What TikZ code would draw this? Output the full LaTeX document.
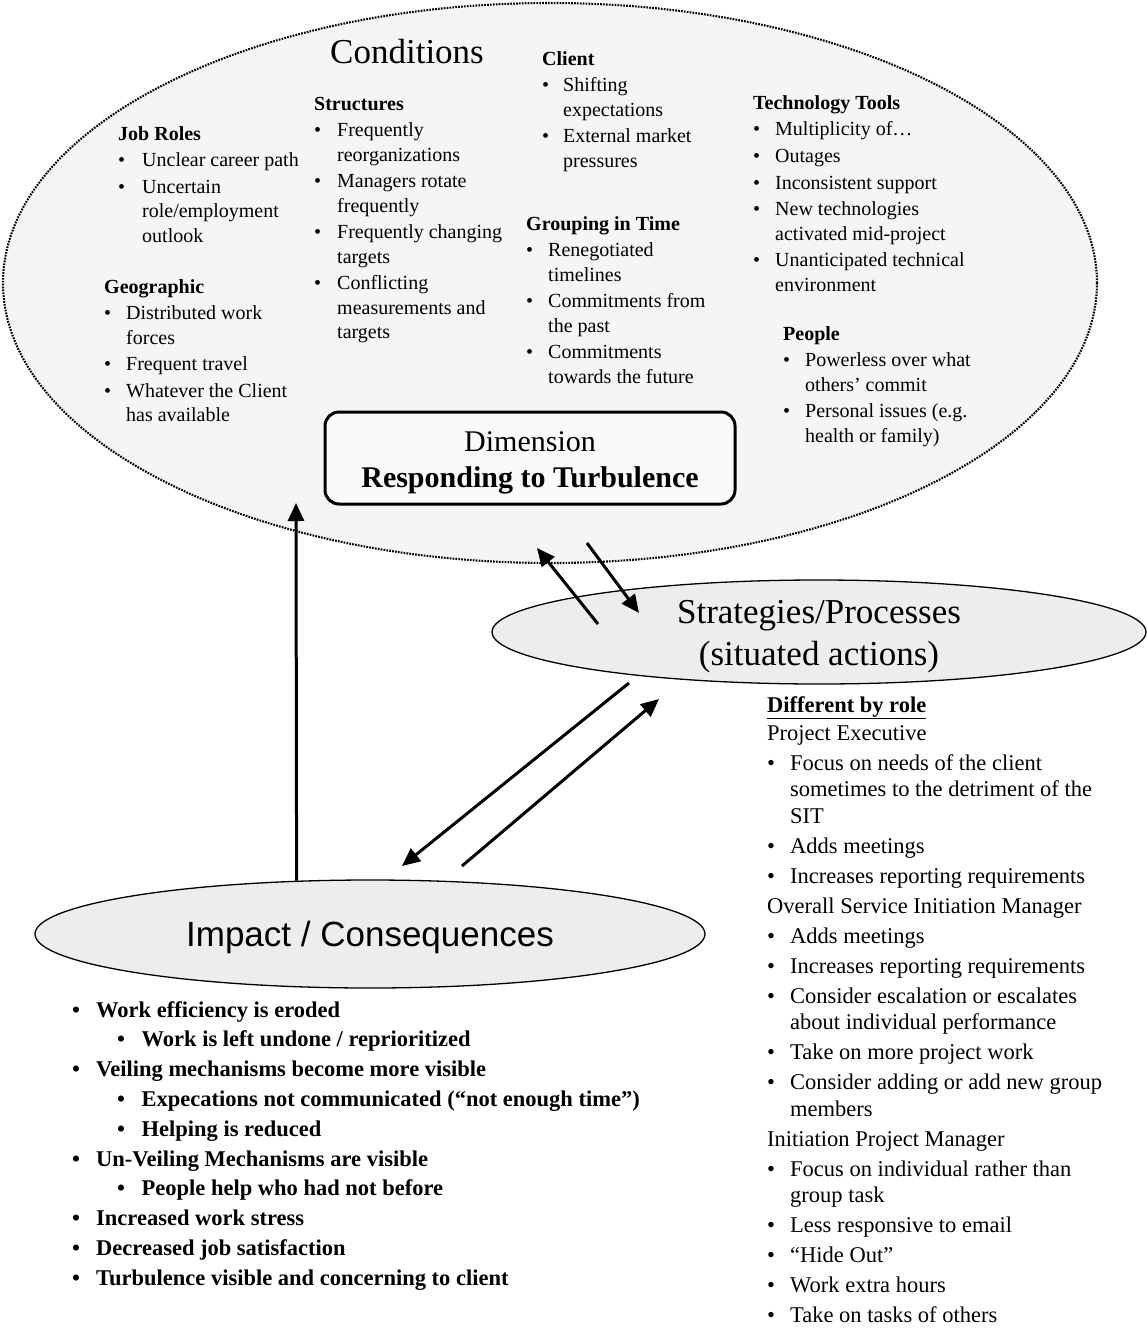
\documentclass[tikz,border=0pt]{standalone}
\usepackage{fontspec}
\setmainfont{Liberation Serif}
\newfontfamily\arialfont{Liberation Sans}
\usetikzlibrary{arrows.meta,shapes.geometric}

% bullet set in a box of given width, and the matching hanging indent
\newcommand\bul[1]{\makebox[#1][l]{\textbullet}}
\newcommand\hang[1]{\hspace*{#1}}

\begin{document}
\begin{tikzpicture}[x=1pt,y=-1pt,
  cloud/.style={ellipse, draw=black, line width=2.1pt, dash pattern=on 1.7pt off 1.2pt, fill=black!4, inner sep=0pt},
  oval/.style={ellipse, draw=black, line width=1.3pt, fill=black!7, inner sep=0pt},
  dimbox/.style={draw, line width=3pt, rounded corners=14pt, fill=black!2, inner sep=0pt},
  bigtext/.style={inner sep=0pt, align=center, font=\fontsize{35}{42}\selectfont},
  cblock/.style={anchor=base west, inner sep=0pt, font=\fontsize{20}{24.3}\selectfont},
  rblock/.style={anchor=base west, inner sep=0pt, font=\fontsize{22.5}{26.5}\selectfont},
  bblock/.style={anchor=base west, inner sep=0pt, font=\fontsize{22.5}{29.8}\selectfont\bfseries},
  arr/.style={line width=3pt, -{Triangle[length=18pt,width=16pt]}},
]
\fill[white] (0,0) rectangle (1147,1328);
\useasboundingbox (0,0) rectangle (1147,1328);

% ---------- Conditions ----------
\node[cloud, minimum width=1094pt, minimum height=560pt] (cond) at (550,283) {};
\node[anchor=base west, inner sep=0pt, font=\fontsize{35}{42}\selectfont] (condtitle) at (330,63) {Conditions};

\node[cblock] (jobroles) at (118,140) {\begin{tabular}[t]{@{}l@{}}
\textbf{Job Roles}\\[2.4pt]
\bul{24pt}Unclear career path\\[2.4pt]
\bul{24pt}Uncertain\\
\hang{24pt}role/employment\\
\hang{24pt}outlook
\end{tabular}};

\node[cblock] (geo) at (104,293) {\begin{tabular}[t]{@{}l@{}}
\textbf{Geographic}\\[2.4pt]
\bul{22pt}Distributed work\\
\hang{22pt}forces\\[2.4pt]
\bul{22pt}Frequent travel\\[2.4pt]
\bul{22pt}Whatever the Client\\
\hang{22pt}has available
\end{tabular}};

\node[cblock] (structures) at (314,110) {\begin{tabular}[t]{@{}l@{}}
\textbf{Structures}\\[2.4pt]
\bul{23pt}Frequently\\
\hang{23pt}reorganizations\\[2.4pt]
\bul{23pt}Managers rotate\\
\hang{23pt}frequently\\[2.4pt]
\bul{23pt}Frequently changing\\
\hang{23pt}targets\\[2.4pt]
\bul{23pt}Conflicting\\
\hang{23pt}measurements and\\
\hang{23pt}targets
\end{tabular}};

\node[cblock] (client) at (542,65) {\begin{tabular}[t]{@{}l@{}}
\textbf{Client}\\[2.4pt]
\bul{21pt}Shifting\\
\hang{21pt}expectations\\[2.4pt]
\bul{21pt}External market\\
\hang{21pt}pressures
\end{tabular}};

\node[cblock] (grouping) at (526,230) {\begin{tabular}[t]{@{}l@{}}
\textbf{Grouping in Time}\\[2.4pt]
\bul{22pt}Renegotiated\\
\hang{22pt}timelines\\[2.4pt]
\bul{22pt}Commitments from\\
\hang{22pt}the past\\[2.4pt]
\bul{22pt}Commitments\\
\hang{22pt}towards the future
\end{tabular}};

\node[cblock] (tech) at (753,109) {\begin{tabular}[t]{@{}l@{}}
\textbf{Technology Tools}\\[2.4pt]
\bul{22pt}Multiplicity of…\\[2.4pt]
\bul{22pt}Outages\\[2.4pt]
\bul{22pt}Inconsistent support\\[2.4pt]
\bul{22pt}New technologies\\
\hang{22pt}activated mid-project\\[2.4pt]
\bul{22pt}Unanticipated technical\\
\hang{22pt}environment
\end{tabular}};

\node[cblock] (people) at (783,340) {\begin{tabular}[t]{@{}l@{}}
\textbf{People}\\[2.4pt]
\bul{22pt}Powerless over what\\
\hang{22pt}others’ commit\\[2.4pt]
\bul{22pt}Personal issues (e.g.\\
\hang{22pt}health or family)
\end{tabular}};

% ---------- Dimension ----------
\node[dimbox, minimum width=410pt, minimum height=92pt] (dim) at (530,458) {};
\node[anchor=base, inner sep=0pt, font=\fontsize{30}{36}\selectfont] (dimtext) at (530,451) {\begin{tabular}[t]{@{}c@{}}
Dimension\\
\textbf{Responding to Turbulence}
\end{tabular}};

% ---------- Strategies / Processes ----------
\node[oval, minimum width=654pt, minimum height=104pt] (strat) at (819,632) {};
\node[bigtext] (strattext) at (819,637) {Strategies/Processes\\(situated actions)};

\node[rblock] (roles) at (767,712) {\begin{tabular}[t]{@{}l@{}}
\textbf{\underline{Different by role}}\\[1.5pt]
Project Executive\\[3.5pt]
\bul{23pt}Focus on needs of the client\\
\hang{23pt}sometimes to the detriment of the\\
\hang{23pt}SIT\\[3.5pt]
\bul{23pt}Adds meetings\\[3.5pt]
\bul{23pt}Increases reporting requirements\\[3.5pt]
Overall Service Initiation Manager\\[3.5pt]
\bul{23pt}Adds meetings\\[3.5pt]
\bul{23pt}Increases reporting requirements\\[3.5pt]
\bul{23pt}Consider escalation or escalates\\
\hang{23pt}about individual performance\\[3.5pt]
\bul{23pt}Take on more project work\\[3.5pt]
\bul{23pt}Consider adding or add new group\\
\hang{23pt}members\\[3.5pt]
Initiation Project Manager\\[3.5pt]
\bul{23pt}Focus on individual rather than\\
\hang{23pt}group task\\[3.5pt]
\bul{23pt}Less responsive to email\\[3.5pt]
\bul{23pt}“Hide Out”\\[3.5pt]
\bul{23pt}Work extra hours\\[3.5pt]
\bul{23pt}Take on tasks of others
\end{tabular}};

% ---------- Impact / Consequences ----------
\node[oval, minimum width=670pt, minimum height=108pt] (impact) at (370,934) {};
\node[bigtext, font=\arialfont\fontsize{35}{42}\selectfont] (impacttext) at (370,937) {Impact / Consequences};

\node[bblock] (effects) at (72,1017) {\begin{tabular}[t]{@{}l@{}}
\bul{24pt}Work efficiency is eroded\\
\hang{45pt}\bul{24.5pt}Work is left undone / reprioritized\\
\bul{24pt}Veiling mechanisms become more visible\\
\hang{45pt}\bul{24.5pt}Expecations not communicated (“not enough time”)\\
\hang{45pt}\bul{24.5pt}Helping is reduced\\
\bul{24pt}Un-Veiling Mechanisms are visible\\
\hang{45pt}\bul{24.5pt}People help who had not before\\
\bul{24pt}Increased work stress\\
\bul{24pt}Decreased job satisfaction\\
\bul{24pt}Turbulence visible and concerning to client
\end{tabular}};

% ---------- connectors ----------
\coordinate (upTip) at (296,503);
\coordinate (toCondStart) at (598,624);
\coordinate (toCondTip) at (537,548);
\coordinate (toStratStart) at (587,543);
\coordinate (toStratTip) at (639,613);
\coordinate (toImpStart) at (629,683);
\coordinate (toImpTip) at (402,866);
\coordinate (fromImpStart) at (462,866);
\coordinate (fromImpTip) at (659,699);

\draw[arr] (impact.144) -- (upTip);
\draw[arr] (toCondStart) -- (toCondTip);
\draw[arr] (toStratStart) -- (toStratTip);
\draw[arr] (toImpStart) -- (toImpTip);
\draw[arr] (fromImpStart) -- (fromImpTip);
\end{tikzpicture}
\end{document}
